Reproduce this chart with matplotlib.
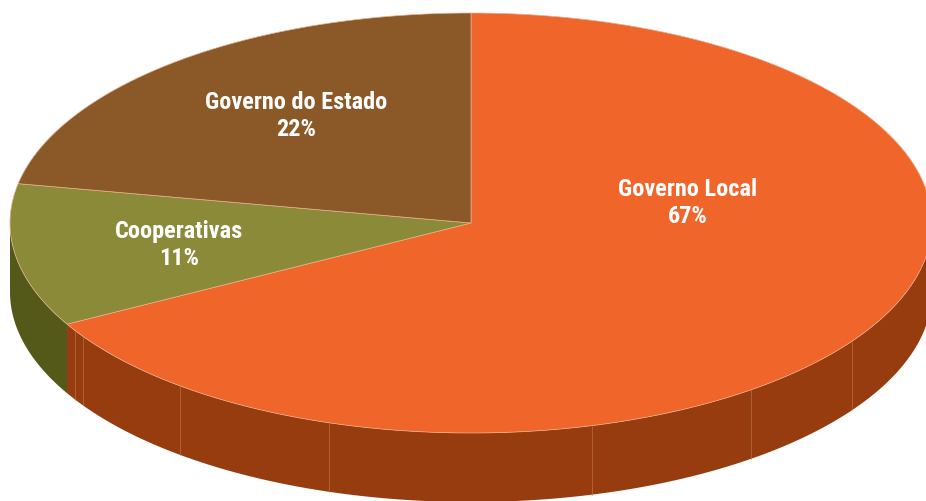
import numpy as np
import matplotlib.pyplot as plt
from matplotlib.patches import Polygon

labels = ['Governo Local', 'Cooperativas', 'Governo do Estado']
shares = [67, 11, 22]
top_colors = ['#F0652A', '#8B8A38', '#8B5828']
side_colors = ['#973C0E', '#545818', '#5A3A18']

# ellipse geometry in pixels (y grows downward)
cx, cy = 471, 223
rx, ry = 461, 210
depth = 69


def arc(t0, t1, n=200, dy=0):
    t = np.radians(np.linspace(t0, t1, n))
    return np.column_stack([cx + rx * np.cos(t), cy + dy + ry * np.sin(t)])


fig = plt.figure(figsize=(9.26, 5.01), dpi=100)
ax = fig.add_axes([0, 0, 1, 1])
ax.set_xlim(0, 926)
ax.set_ylim(501, 0)
ax.set_axis_off()

# slice angles: start at 12 o'clock, clockwise on screen
bounds = -90 + 360 * np.concatenate([[0], np.cumsum(shares)]) / sum(shares)

# visible side walls (front half of the disc)
for i in range(len(shares)):
    a0, a1 = max(bounds[i], 0), min(bounds[i + 1], 180)
    if a1 <= a0:
        continue
    top = arc(a0, a1)
    bot = arc(a1, a0, dy=depth)
    ax.add_patch(Polygon(np.vstack([top, bot]), closed=True,
                         facecolor=side_colors[i], edgecolor='none'))

# faint facet seams on the wall
for a in [34.3, 52.6, 74.8, 108, 129.1, 147.3, 149.2]:
    t = np.radians(a)
    x = cx + rx * np.cos(t)
    y = cy + ry * np.sin(t)
    ax.plot([x, x], [y, y + depth], color='#C8825A', lw=0.6, alpha=0.6)

# top faces
for i in range(len(shares)):
    pts = np.vstack([[cx, cy], arc(bounds[i], bounds[i + 1])])
    ax.add_patch(Polygon(pts, closed=True, facecolor=top_colors[i],
                         edgecolor='#E8B090', lw=0.5))

font = ['Roboto Condensed', 'Liberation Sans Narrow', 'Roboto', 'DejaVu Sans']
label_pos = [(688, 203), (179, 245), (296, 116)]
for (x, y), name, v in zip(label_pos, labels, shares):
    ax.text(x, y, f'{name}\n{v}%', ha='center', va='center', color='white',
            fontsize=17.5, fontweight='bold', family=font, linespacing=1.25)

fig.savefig('out.png', dpi=100)
